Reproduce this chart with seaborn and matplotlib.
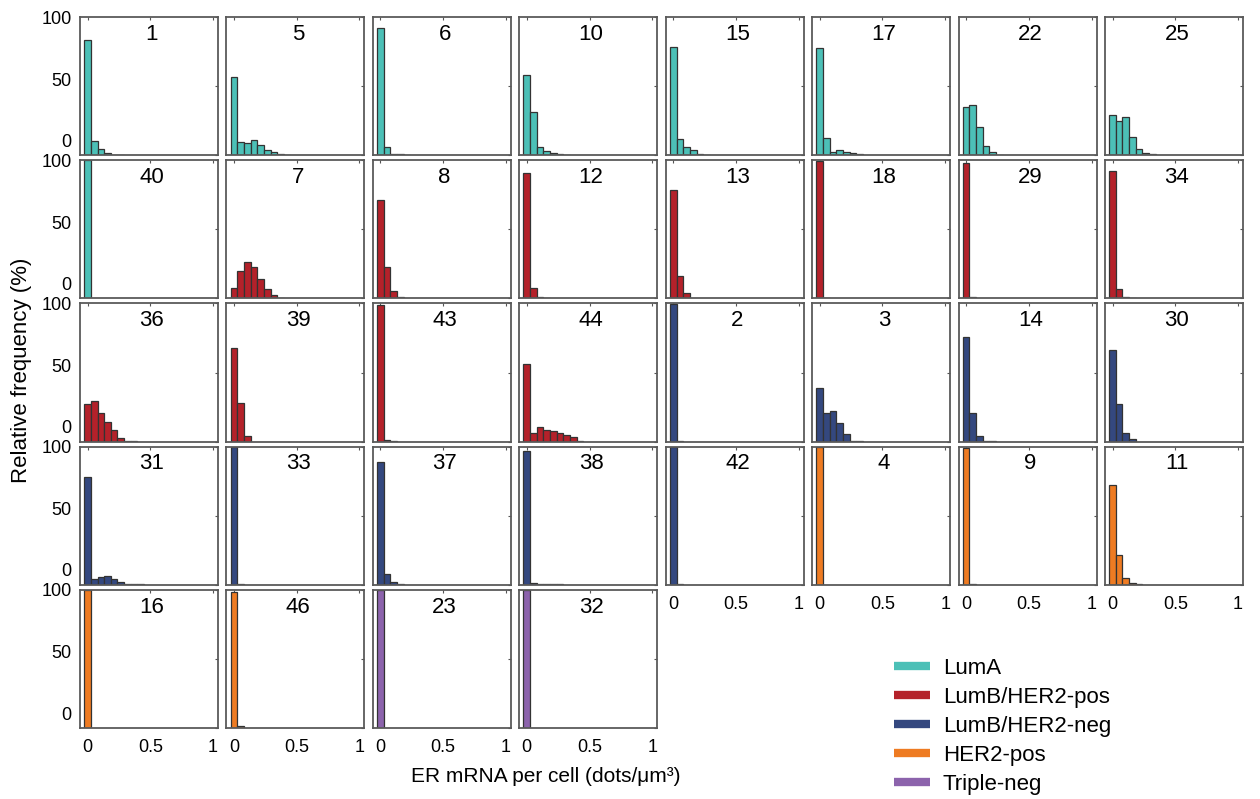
import numpy as np
import pandas as pd
import matplotlib
matplotlib.use("Agg")
import matplotlib.pyplot as plt
import matplotlib.transforms as mtransforms
from matplotlib.lines import Line2D
import seaborn as sns

# subtype groups: patient ids and relative frequency (%) per bin (bins of ~0.053 dots/um^3)
lum_a_ids = [1, 5, 6, 10, 15, 17, 22, 25, 40]
lum_a_freqs = [
    [83.5, 10, 4.5, 1.5, 0.3, 0.2],
    [56.5, 9.4, 8.7, 10.6, 7.5, 3.9, 2.4, 0.7, 0.2],
    [92, 5.8, 1.0, 0.8, 0.3],
    [57.7, 31, 6, 2.9, 1.2, 0.7, 0.3],
    [78, 11.4, 5.8, 3.6, 0.8, 0.2],
    [77.5, 12.3, 2.2, 3.9, 2.2, 1.5, 0.4],
    [34.8, 36, 20, 6.8, 1.9, 0.3],
    [29, 24.6, 27.5, 12.8, 4.1, 1.2, 0.5],
    [100],
]
lum_b_pos_ids = [7, 8, 12, 13, 18, 29, 34, 36, 39, 43, 44]
lum_b_pos_freqs = [
    [7.7, 19.6, 26.3, 22.7, 14, 6.8, 2.7, 0.4],
    [71, 23, 5.2, 0.8],
    [90.8, 7.2, 1.2, 0.2],
    [78.7, 16.4, 3.9],
    [99.5, 0.5],
    [98, 1.0],
    [92, 6.5, 1.0, 0.3],
    [27.5, 29, 20.8, 13.9, 8.4, 2.5, 0.4, 0.2],
    [68, 28, 3.8],
    [99, 1.0, 0.3],
    [56, 6.2, 10.6, 8.2, 7.4, 6.2, 4.5, 3.2, 0.5],
]
lum_b_neg_ids = [2, 3, 14, 30, 31, 33, 37, 38, 42]
lum_b_neg_freqs = [
    [99.5, 0.5],
    [38.9, 20.3, 21.8, 13.4, 5.2, 0.5, 0.3],
    [75.7, 20.3, 4.2, 0.5, 0.3],
    [66.5, 27, 6.5, 1.5],
    [78, 4, 5.5, 6, 4.5, 2, 0.5, 0.3, 0.3],
    [99.6, 0.4],
    [89, 8, 2, 0.5],
    [97, 1.0, 0.5, 0.5, 0.3, 0.3],
    [99.5, 0.5],
]
her2_ids = [4, 9, 11, 16, 46]
her2_freqs = [
    [100],
    [99.4, 0.5],
    [72, 21.5, 5.1, 1.2, 0.3],
    [100],
    [98.5, 1.2],
]
triple_ids = [23, 32]
triple_freqs = [
    [100],
    [100],
]

group_names = ["LumA", "LumB/HER2-pos", "LumB/HER2-neg", "HER2-pos", "Triple-neg"]
group_colors = ["#4cc0b7", "#b4212a", "#34487f", "#ee7b22", "#8c63ac"]
bin_width = 0.053

groups = [
    (lum_a_ids, lum_a_freqs),
    (lum_b_pos_ids, lum_b_pos_freqs),
    (lum_b_neg_ids, lum_b_neg_freqs),
    (her2_ids, her2_freqs),
    (triple_ids, triple_freqs),
]

sns.set_style("white")
plt.rcParams["font.family"] = ["Liberation Sans", "DejaVu Sans"]
plt.rcParams["font.stretch"] = "normal"
plt.rcParams["text.color"] = "black"

fig = plt.figure(figsize=(12.6, 7.99), dpi=100)
gs = fig.add_gridspec(5, 8, left=80 / 1260, right=1243 / 1260, top=1 - 17 / 799,
                      bottom=1 - 728 / 799, wspace=0.061, hspace=0.038)

panels = []
for g, (ids, freqs) in enumerate(groups):
    for pid, f in zip(ids, freqs):
        panels.append((pid, f, group_colors[g]))

n_panels = len(panels)
for i, (pid, f, col) in enumerate(panels):
    r, c = divmod(i, 8)
    ax = fig.add_subplot(gs[r, c])
    df = pd.DataFrame({"er": np.arange(len(f)) * bin_width, "freq": f})
    edges = list(np.arange(len(f) + 1) * bin_width - bin_width / 2)
    sns.histplot(data=df, x="er", weights="freq", bins=edges, color=col,
                 edgecolor="#333333", linewidth=0.9, alpha=1, ax=ax)
    ax.set_xlim(-0.06, 1.04)
    ax.set_ylim(0, 100)
    ax.set_xlabel("")
    ax.set_ylabel("")
    ax.set_xticks([0, 0.5, 1])
    ax.set_yticks([0, 50, 100])
    ax.tick_params(direction="in", length=2.5, width=0.8, color="#555555",
                   labelcolor="black", top=True, right=True, labelsize=13, pad=6)
    for s in ax.spines.values():
        s.set_color("#5a5a5a")
        s.set_linewidth(1.3)
        s.set_visible(True)
    ax.text(0.52, 0.875, str(pid), transform=ax.transAxes, ha="center", va="center",
            fontsize=16, color="black")

    # x labels only on the lowest panel of each column
    if i + 8 < n_panels:
        ax.set_xticklabels([])
    else:
        ax.set_xticklabels(["0", "0.5", "1"])
        ax.tick_params(axis="x", pad=8)

    if c == 0:
        ax.set_yticklabels(["0", "50", "100"])
        for lab, dy in zip(ax.get_yticklabels(), [15, 7, 0]):
            off = mtransforms.ScaledTranslation(0, dy / 100, fig.dpi_scale_trans)
            lab.set_transform(lab.get_transform() + off)
    else:
        ax.set_yticklabels([])

fig.text(22 / 1260, 1 - 370 / 799, "Relative frequency (%)", rotation=90,
         ha="center", va="center", fontsize=16)
fig.text(546 / 1260, 1 - 776 / 799, "ER mRNA per cell (dots/\u03bcm\u00b3)",
         ha="center", va="center", fontsize=15)

handles = [Line2D([0], [0], color=c, lw=6, solid_capstyle="butt") for c in group_colors]
fig.legend(handles, group_names, loc="upper left",
           bbox_to_anchor=(894 / 1260, 1 - 658 / 799), frameon=False, fontsize=16,
           handlelength=1.6, handletextpad=0.6, labelspacing=0.36, borderpad=0,
           borderaxespad=0)

fig.savefig("out.png", dpi=100)
